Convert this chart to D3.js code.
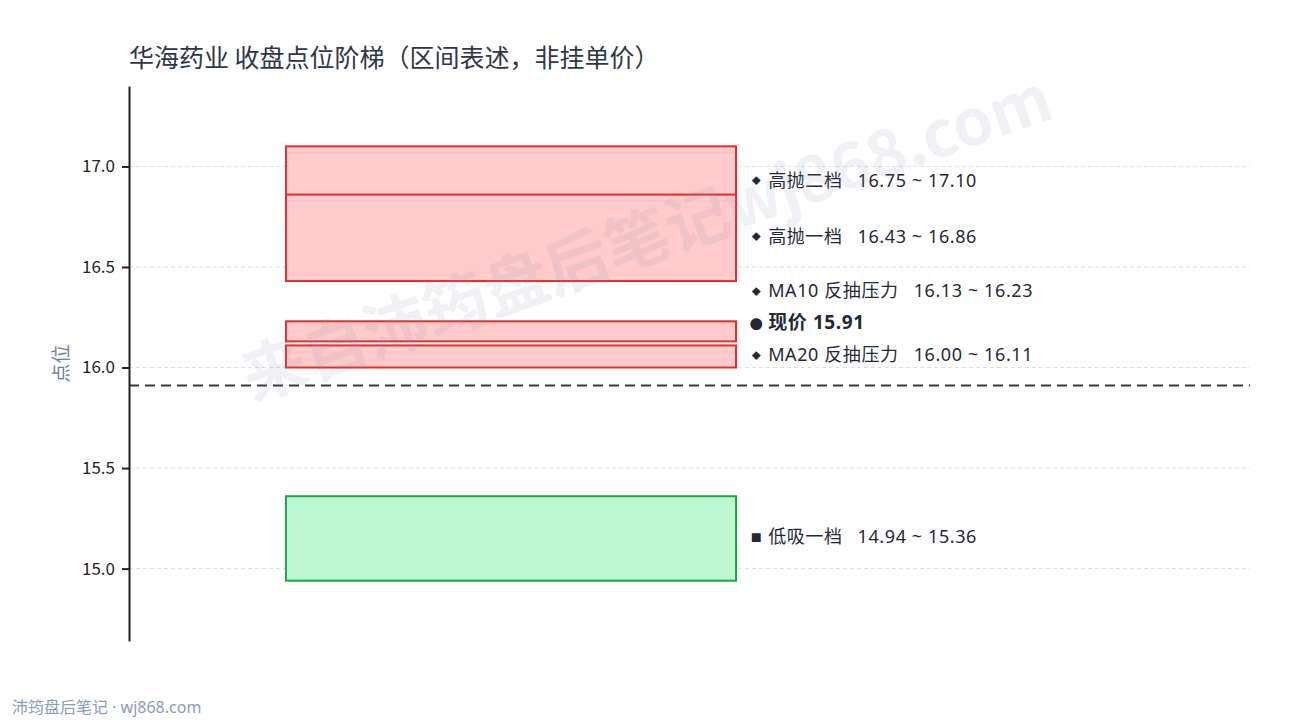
<!DOCTYPE html>
<html>
<head>
<meta charset="utf-8">
<script src="https://cdn.jsdelivr.net/npm/d3@7"></script>
<style>
  body { margin: 0; background: #fff; }
  text { font-family: "Noto Sans CJK SC", "Noto Sans", sans-serif; }
</style>
</head>
<body>
<div id="chart"></div>
<script>
// price ladder: zones drawn as boxes, labels on the right

// zones, drawn in this order (later ones cover earlier ones)
var zoneNames = ["高抛二档", "高抛一档", "MA10 反抽压力", "MA20 反抽压力", "低吸一档"];
var zoneLow = [16.75, 16.43, 16.13, 16.00, 14.94];
var zoneHigh = [17.10, 16.86, 16.23, 16.11, 15.36];
var zoneKind = ["sell", "sell", "sell", "sell", "buy"];

var currentPrice = 15.91;

// label list order on the right side
var labelOrder = ["高抛二档", "高抛一档", "MA10 反抽压力", "现价", "MA20 反抽压力", "低吸一档"];

var yTicks = [15.0, 15.5, 16.0, 16.5, 17.0];
var yDomain = [14.64, 17.40];

var svgWidth = 1290;
var svgHeight = 720;

var margin = { top: 86, right: 40, bottom: 79, left: 129 };
var width = svgWidth - margin.left - margin.right;
var height = svgHeight - margin.top - margin.bottom;

var svg = d3.select("#chart")
    .append("svg")
    .attr("width", svgWidth)
    .attr("height", svgHeight);

var chartGroup = svg.append("g")
    .attr("transform", `translate(${margin.left}, ${margin.top})`);

var xScale = d3.scaleLinear().domain([0, 1]).range([0, width]);
var yScale = d3.scaleLinear().domain(yDomain).range([height, 0]);

// grid lines
chartGroup.append("g")
    .selectAll("line")
    .data(yTicks)
    .enter()
    .append("line")
    .attr("x1", 0)
    .attr("x2", width)
    .attr("y1", d => yScale(d))
    .attr("y2", d => yScale(d))
    .attr("stroke", "#dedede")
    .attr("stroke-width", 1)
    .attr("stroke-dasharray", "4,3");

// zone boxes
var colors = {
    sell: { fill: "#ffcaca", stroke: "#e02f2f" },
    buy: { fill: "#bbf7d0", stroke: "#22a24c" }
};

var zones = zoneNames.map((n, i) => ({ name: n, lo: zoneLow[i], hi: zoneHigh[i], kind: zoneKind[i] }));

chartGroup.append("g")
    .selectAll("rect")
    .data(zones)
    .enter()
    .append("rect")
    .attr("x", xScale(0.14))
    .attr("width", xScale(0.5415) - xScale(0.14))
    .attr("y", d => yScale(d.hi))
    .attr("height", d => yScale(d.lo) - yScale(d.hi))
    .attr("fill", d => colors[d.kind].fill)
    .attr("stroke", d => colors[d.kind].stroke)
    .attr("stroke-width", 2);

// current price line
chartGroup.append("line")
    .attr("x1", 0)
    .attr("x2", width)
    .attr("y1", yScale(currentPrice))
    .attr("y2", yScale(currentPrice))
    .attr("stroke", "#333a45")
    .attr("stroke-width", 2)
    .attr("stroke-dasharray", "10,6");

// left axis
var leftAxis = d3.axisLeft(yScale)
    .tickValues(yTicks)
    .tickFormat(d3.format(".1f"))
    .tickSizeOuter(0)
    .tickSizeInner(7);

var yAxis = chartGroup.append("g").call(leftAxis);
yAxis.select(".domain").attr("stroke", "#222").attr("stroke-width", 2);
yAxis.selectAll(".tick line").attr("stroke", "#222").attr("stroke-width", 2);
yAxis.selectAll(".tick text")
    .attr("font-size", 17)
    .attr("fill", "#222")
    .attr("x", -14)
    .style("font-family", "'Noto Sans CJK SC', sans-serif");

// labels: put each one at its zone centre, then push up so they don't overlap
var labels = labelOrder.map(function(n) {
    if (n === "现价") {
        return { marker: "●", name: "现价 " + currentPrice.toFixed(2), range: "", y: yScale(currentPrice), bold: true };
    }
    var z = zones.find(d => d.name === n);
    return {
        marker: z.kind === "buy" ? "■" : "◆",
        name: n,
        range: z.lo.toFixed(2) + " ~ " + z.hi.toFixed(2),
        y: yScale((z.lo + z.hi) / 2),
        bold: false
    };
});
var minGap = 32;
for (var i = labels.length - 2; i >= 0; i--) {
    labels[i].y = Math.min(labels[i].y, labels[i + 1].y - minGap);
}

var labelX = xScale(0.555);
var labelGroup = chartGroup.append("g");
labels.forEach(function(l) {
    labelGroup.append("text")
        .attr("x", labelX + 5)
        .attr("y", l.y - 1)
        .attr("text-anchor", "middle")
        .attr("dominant-baseline", "central")
        .attr("fill", "#1f2937")
        .attr("font-size", l.marker === "◆" ? 9 : (l.marker === "■" ? 11 : 13))
        .text(l.marker);
    var t = labelGroup.append("text")
        .attr("x", labelX + 17)
        .attr("y", l.y - 2)
        .attr("dominant-baseline", "central")
        .attr("fill", "#1f2937")
        .attr("font-size", l.bold ? 19 : 18)
        .attr("font-weight", l.bold ? "bold" : "normal")
        .attr("letter-spacing", 0.6)
        .style("font-family", "'Noto Sans', 'Noto Sans CJK SC', sans-serif");
    t.append("tspan").text(l.name);
    if (l.range) {
        t.append("tspan").attr("dx", 15).text(l.range);
    }
});

// y label
svg.append("text")
    .attr("transform", `translate(68, ${margin.top + height / 2}) rotate(-90)`)
    .attr("text-anchor", "middle")
    .attr("font-size", 19)
    .attr("fill", "#718096")
    .text("点位");

// title
svg.append("text")
    .attr("x", margin.left)
    .attr("y", 67)
    .attr("font-size", 25)
    .attr("fill", "#2d3748")
    .text("华海药业 收盘点位阶梯（区间表述，非挂单价）");

// watermark
svg.append("text")
    .attr("transform", "translate(645, 233) rotate(-19.5)")
    .attr("text-anchor", "middle")
    .attr("dominant-baseline", "central")
    .attr("font-size", 64)
    .attr("font-weight", "bold")
    .attr("fill", "#8090b0")
    .attr("opacity", 0.12)
    .text("来自沛筠盘后笔记wj868.com");

// footer
svg.append("text")
    .attr("x", 12)
    .attr("y", 713)
    .attr("font-size", 16)
    .attr("fill", "#8a9bbd")
    .style("font-family", "'Noto Sans', 'Noto Sans CJK SC', sans-serif")
    .text("沛筠盘后笔记 · wj868.com");
</script>
</body>
</html>
